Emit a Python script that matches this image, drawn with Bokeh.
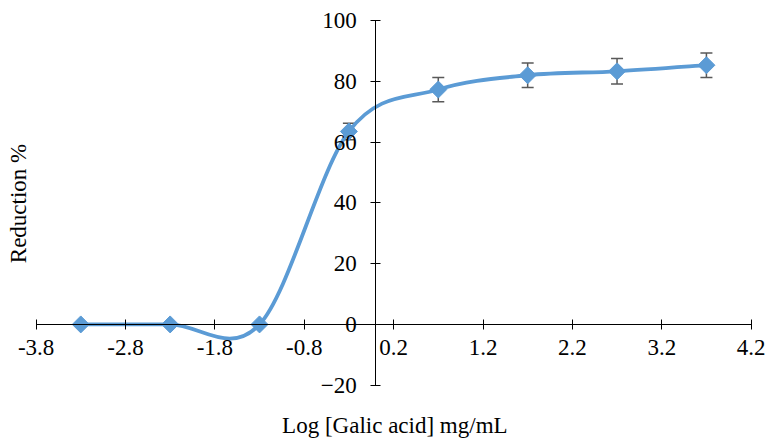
import numpy as np
from bokeh.plotting import figure
from bokeh.models import (Range1d, LinearAxis, FixedTicker, ColumnDataSource,
                          Whisker, TeeHead, PrintfTickFormatter, Label)
from bokeh.embed import file_html
from bokeh.resources import INLINE

# Dose-response data: log10 concentration vs. reduction (%) with error
log_conc = [-3.301, -2.301, -1.301, -0.301, 0.699, 1.699, 2.699, 3.699]
reduction = [0.0, 0.0, 0.0, 63.5, 77.3, 82.0, 83.3, 85.3]
errors = [0.0, 0.0, 0.0, 2.7, 4.0, 4.0, 4.2, 4.0]

x_ticks = [-3.8, -2.8, -1.8, -0.8, 0.2, 1.2, 2.2, 3.2, 4.2]
y_ticks = [-20, 0, 20, 40, 60, 80, 100]

BLUE = "#5B9BD5"
FONT = "'Liberation Serif'"
SIZE = "23px"

# The plotting frame spans the whole canvas; axes cross at the origin
p = figure(width=765, height=440, output_backend="svg", toolbar_location=None,
           x_range=Range1d(-4.199, 4.36), y_range=Range1d(-38.2, 106.6),
           x_axis_location=None, y_axis_location=None, min_border=0)
p.grid.visible = False
p.outline_line_color = None
p.background_fill_color = "white"
p.border_fill_color = "white"


def style_axis(ax):
    ax.axis_line_color = "black"
    ax.axis_line_width = 1
    ax.major_tick_line_color = "black"
    ax.major_tick_in = 5
    ax.major_tick_out = 5
    ax.minor_tick_line_color = None
    ax.major_label_text_font = FONT
    ax.major_label_text_font_size = SIZE
    ax.major_label_text_color = "black"


xax = LinearAxis(ticker=FixedTicker(ticks=x_ticks),
                 formatter=PrintfTickFormatter(format="%.1f"),
                 fixed_location=0, bounds=(-3.8, 4.2))
style_axis(xax)
xax.major_label_standoff = 11
p.add_layout(xax, "below")

yax = LinearAxis(ticker=FixedTicker(ticks=y_ticks), fixed_location=0,
                 bounds=(-20, 100))
style_axis(yax)
yax.major_label_standoff = 14
p.add_layout(yax, "left")

# Axis titles
p.add_layout(Label(x=0.213, y=-33.4, text="Log [Galic acid] mg/mL",
                   text_font=FONT, text_font_size=SIZE, text_color="black",
                   text_align="center", text_baseline="middle"))
p.add_layout(Label(x=-3.998, y=39.8, text="Reduction %", angle=np.pi / 2,
                   text_font=FONT, text_font_size=SIZE, text_color="black",
                   text_align="center", text_baseline="middle"))

# Error bars for the measured points with a spread
err_idx = [i for i, e in enumerate(errors) if e > 0]
err_src = ColumnDataSource(dict(
    x=[log_conc[i] for i in err_idx],
    upper=[reduction[i] + errors[i] for i in err_idx],
    lower=[reduction[i] - errors[i] for i in err_idx],
))
whisk = Whisker(source=err_src, base="x", upper="upper", lower="lower",
                line_color="#595959", line_width=1.5,
                upper_head=TeeHead(size=12, line_color="#595959", line_width=1.5),
                lower_head=TeeHead(size=12, line_color="#595959", line_width=1.5))
whisk.level = "underlay"
p.add_layout(whisk)

# Smoothed connecting line: cubic Bezier segments (Catmull-Rom style tangents)
xs = np.array(log_conc)
ys = np.array(reduction)
n = len(xs)
x0, y0, x1, y1, cx0, cy0, cx1, cy1 = ([] for _ in range(8))
for i in range(n - 1):
    xp, yp = (xs[i - 1], ys[i - 1]) if i > 0 else (xs[i], ys[i])
    xn, yn = (xs[i + 2], ys[i + 2]) if i + 2 < n else (xs[i + 1], ys[i + 1])
    x0.append(xs[i]); y0.append(ys[i])
    x1.append(xs[i + 1]); y1.append(ys[i + 1])
    cx0.append(xs[i] + (xs[i + 1] - xp) / 6); cy0.append(ys[i] + (ys[i + 1] - yp) / 6)
    cx1.append(xs[i + 1] - (xn - xs[i]) / 6); cy1.append(ys[i + 1] - (yn - ys[i]) / 6)
p.bezier(x0=x0, y0=y0, x1=x1, y1=y1, cx0=cx0, cy0=cy0, cx1=cx1, cy1=cy1,
         line_color=BLUE, line_width=3.8)

# Diamond markers
p.scatter(log_conc, reduction, marker="square", angle=np.pi / 4, size=12,
          fill_color=BLUE, line_color=BLUE)

open("out.html", "w").write(file_html(p, INLINE))
